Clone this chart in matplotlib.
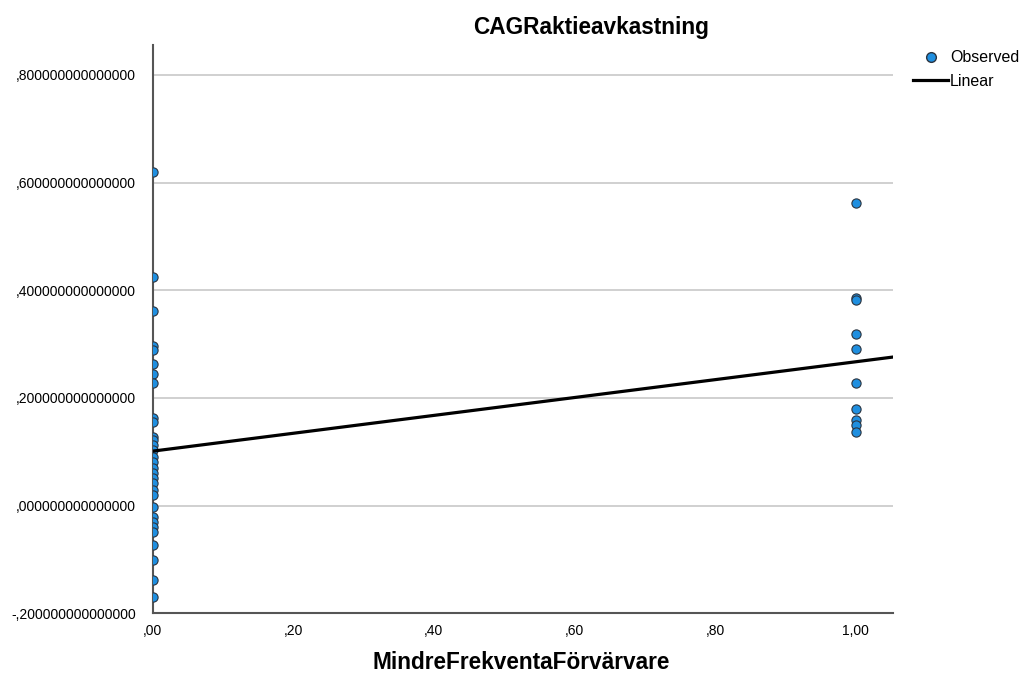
import numpy as np
import matplotlib
matplotlib.use("Agg")
import matplotlib.pyplot as plt
from matplotlib.ticker import FuncFormatter
from matplotlib.lines import Line2D

plt.rcParams['font.family'] = ['Liberation Sans', 'DejaVu Sans']

# observed values, group 0 and group 1
grupp0_y = [0.620, 0.425, 0.361, 0.296, 0.289, 0.263, 0.244, 0.227,
            0.162, 0.155, 0.127, 0.122, 0.112, 0.103, 0.090, 0.081,
            0.070, 0.060, 0.051, 0.042, 0.029, 0.020, -0.003, -0.022,
            -0.031, -0.040, -0.049, -0.073, -0.101, -0.139, -0.170]
grupp1_y = [0.562, 0.386, 0.382, 0.319, 0.291, 0.228, 0.179, 0.159,
            0.150, 0.137]

x_obs = [0.0] * len(grupp0_y) + [1.0] * len(grupp1_y)
y_obs = grupp0_y + grupp1_y

# linjär anpassning
intercept = 0.101
slope = 0.166

x_ticks = [0.0, 0.2, 0.4, 0.6, 0.8, 1.0]
y_ticks = [-0.2, 0.0, 0.2, 0.4, 0.6, 0.8]


def fmt_sv(v, decimals):
    s = f"{abs(v):.{decimals}f}".replace(".", ",")
    if s.startswith("0,"):
        s = s[1:]
    return ("-" if v < -1e-12 else "") + s


fig = plt.figure(figsize=(10.25, 6.79), dpi=100)
ax = fig.add_axes([0.149, 0.097, 0.722, 0.837])

ax.scatter(x_obs, y_obs, s=44, color='#1f8fe0', edgecolor='#2b3440',
           linewidth=0.8, zorder=3)

xl = np.array([0.0, 1.06])
ax.plot(xl, intercept + slope * xl, color='black', lw=2.3, zorder=4)

ax.set_xlim(0, 1.053)
ax.set_ylim(-0.2, 0.856)
ax.set_xticks(x_ticks)
ax.set_yticks(y_ticks)
ax.xaxis.set_major_formatter(FuncFormatter(lambda v, p: fmt_sv(v, 2)))
ax.yaxis.set_major_formatter(FuncFormatter(lambda v, p: fmt_sv(v, 15)))
ax.tick_params(length=0, labelsize=10, pad=12)
ax.tick_params(axis='x', pad=8)

for yv in y_ticks[1:]:
    ax.axhline(yv, color='#c8c8c8', lw=1.2, zorder=1)

for s in ['top', 'right']:
    ax.spines[s].set_visible(False)
for s in ['left', 'bottom']:
    ax.spines[s].set_color('#555555')
    ax.spines[s].set_linewidth(1.5)

fig.text(0.577, 0.960, "CAGRaktieavkastning", ha='center', va='center',
         fontsize=16.3, fontweight='bold')
fig.text(0.508, 0.007, "MindreFrekventaFörvärvare", ha='center', va='bottom',
         fontsize=16.3, fontweight='bold')

handles = [Line2D([], [], marker='o', ls='', markersize=7,
                  markerfacecolor='#1f8fe0', markeredgecolor='#2b3440'),
           Line2D([], [], color='black', lw=2.3)]
fig.legend(handles, ['Observed', 'Linear'], loc='upper left',
           bbox_to_anchor=(0.891, 0.926), frameon=False, fontsize=11.5,
           handlelength=2.2, handletextpad=0.1, labelspacing=0.55,
           borderaxespad=0, borderpad=0)

fig.savefig("out.png", dpi=100)
